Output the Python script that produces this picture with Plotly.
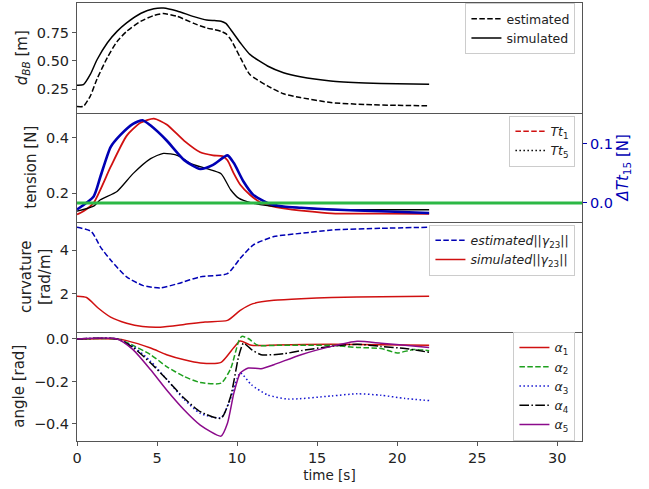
import plotly.graph_objects as go
from plotly.subplots import make_subplots

# ---------------- data ----------------
t_d = [0, 0.4, 0.83, 1.25, 1.9, 2.5, 3.1, 4.0, 4.8, 5.4, 6.25, 7.3, 8.1, 8.6, 9.0, 9.3, 9.6, 10.2, 10.8, 11.9, 12.9, 13.95, 15.85, 18, 20, 22]
d_sim = [0.285, 0.29, 0.38, 0.51, 0.66, 0.76, 0.835, 0.92, 0.96, 0.966, 0.94, 0.89, 0.86, 0.855, 0.85, 0.83, 0.776, 0.66, 0.557, 0.455, 0.396, 0.36, 0.323, 0.306, 0.298, 0.294]
d_est = [0.098, 0.10, 0.19, 0.34, 0.53, 0.67, 0.76, 0.85, 0.90, 0.917, 0.893, 0.83, 0.79, 0.775, 0.76, 0.74, 0.69, 0.53, 0.38, 0.28, 0.21, 0.177, 0.133, 0.115, 0.108, 0.104]

t_T1 = [0, 0.4, 1.04, 2.1, 3.1, 3.96, 4.8, 5.6, 6.7, 7.7, 8.5, 9.1, 9.4, 9.8, 10.2, 10.8, 11.5, 12.9, 15.9, 19, 22]
T1 = [0.123, 0.135, 0.165, 0.294, 0.406, 0.453, 0.468, 0.447, 0.388, 0.347, 0.336, 0.333, 0.318, 0.27, 0.23, 0.194, 0.165, 0.145, 0.127, 0.126, 0.125]

t_T5 = [0, 1.04, 1.46, 2.5, 3.5, 4.6, 5.4, 6.3, 7.1, 8.1, 9.0, 9.6, 10.1, 10.9, 11.9, 15.9, 19, 22]
T5 = [0.135, 0.153, 0.176, 0.206, 0.27, 0.324, 0.343, 0.335, 0.306, 0.288, 0.27, 0.212, 0.182, 0.165, 0.155, 0.141, 0.14, 0.14]

t_dT = [0, 1.04, 1.46, 2.1, 2.7, 3.5, 4.1, 4.6, 5.6, 6.7, 7.7, 8.5, 9.4, 9.8, 10.4, 11.0, 11.9, 12.9, 14.0, 15.9, 19, 22]
dT15 = [-0.011, 0.011, 0.044, 0.094, 0.114, 0.133, 0.139, 0.130, 0.105, 0.072, 0.057, 0.064, 0.08, 0.067, 0.036, 0.014, 0.0, -0.006, -0.008, -0.011, -0.014, -0.017]

t_ke = [0, 0.9, 1.46, 2.1, 3.1, 4.1, 5.2, 6.3, 7.7, 9.4, 10.2, 11.0, 12.3, 14.0, 15.9, 19, 22]
k_est = [5.05, 4.85, 4.15, 3.54, 2.77, 2.38, 2.26, 2.46, 2.77, 2.92, 3.62, 4.23, 4.62, 4.77, 4.92, 5.0, 5.05]
t_ks = [0, 0.6, 1.3, 2.1, 3.1, 4.1, 5.2, 6.7, 8.0, 9.4, 10.2, 11.0, 12.3, 14.0, 15.9, 19, 22]
k_sim = [1.88, 1.82, 1.35, 0.92, 0.64, 0.49, 0.46, 0.58, 0.70, 0.77, 1.23, 1.54, 1.69, 1.77, 1.82, 1.86, 1.88]

t_a1 = [0, 2.5, 3.1, 4.6, 5.6, 6.7, 7.7, 9.0, 9.8, 10.2, 10.9, 12.5, 15.9, 19, 22]
a1 = [0, 0, -0.008, -0.043, -0.074, -0.098, -0.113, -0.11, -0.04, -0.01, -0.03, -0.028, -0.025, -0.027, -0.03]
t_a2 = [0, 2.5, 3.1, 4.6, 5.6, 6.7, 7.7, 9.0, 9.6, 10.1, 10.3, 10.7, 11.3, 12.5, 15.9, 17.5, 19, 20, 21, 22]
a2 = [0, 0, -0.016, -0.074, -0.13, -0.177, -0.205, -0.208, -0.14, -0.011, 0.012, 0.002, -0.03, -0.03, -0.03, -0.04, -0.045, -0.066, -0.05, -0.055]
t_a3 = [0, 2.5, 3.5, 4.6, 5.6, 6.7, 7.7, 9.0, 9.5, 10.2, 10.9, 11.9, 13.2, 15.9, 17.5, 19, 20.5, 22]
a3 = [0, 0, -0.035, -0.105, -0.19, -0.285, -0.35, -0.37, -0.3, -0.16, -0.216, -0.263, -0.283, -0.268, -0.258, -0.265, -0.28, -0.29]
t_a4 = [0, 2.5, 3.5, 4.6, 5.6, 6.7, 7.7, 9.0, 9.6, 10.1, 10.4, 10.9, 11.5, 12.9, 14.0, 15.9, 17.5, 19, 20.5, 22]
a4 = [0, 0, -0.04, -0.113, -0.19, -0.279, -0.342, -0.373, -0.27, -0.082, -0.02, -0.05, -0.074, -0.07, -0.055, -0.035, -0.025, -0.035, -0.045, -0.063]
t_a5 = [0, 2.5, 3.5, 4.6, 5.6, 6.7, 7.7, 9.0, 9.4, 9.8, 10.2, 10.7, 11.5, 12.3, 14.0, 15.9, 17.5, 19, 20.5, 22]
a5 = [0, 0, -0.05, -0.145, -0.24, -0.334, -0.405, -0.457, -0.397, -0.255, -0.16, -0.137, -0.14, -0.121, -0.074, -0.035, -0.011, -0.02, -0.03, -0.04]

x_range = [0, 31.55]

# ---------------- styles ----------------
FONT = "DejaVu Sans"
RED = "#d01010"
BLUE = "#0000b4"
TXT = "#222222"
FRAME = "#555555"
DASH = "5.5px,2.4px"
DOT = "1.5px,2.5px"
DASHDOT = "9.6px,2.4px,1.5px,2.4px"
TICK_SIZE = 14.5
YLAB_SIZE = 15
XLAB_SIZE = 13.5
LEG_SIZE = 12.5

fig = make_subplots(rows=4, cols=1, shared_xaxes=True, vertical_spacing=0,
                    specs=[[{}], [{"secondary_y": True}], [{}], [{}]])

def L(name, x, y, color, dash="solid", width=1.5, legend="legend", show=True):
    return go.Scatter(x=x, y=y, name=name, mode="lines",
                      line=dict(color=color, dash=dash, width=width, shape="spline", smoothing=0.6),
                      legend=legend, showlegend=show)

# panel 1
fig.add_trace(L("estimated", t_d, d_est, "black", DASH), row=1, col=1)
fig.add_trace(L("simulated", t_d, d_sim, "black"), row=1, col=1)

# panel 2
fig.add_trace(L("Tt1", t_T1, T1, RED, "solid", 1.8, "legend2", False), row=2, col=1, secondary_y=False)
fig.add_trace(L("Tt5", t_T5, T5, "black", "solid", 1.3, "legend2", False), row=2, col=1, secondary_y=False)
fig.add_trace(go.Scatter(x=[None], y=[None], mode="lines", name="<i>Tt</i><sub>1</sub>",
                         line=dict(color=RED, dash=DASH, width=1.5), legend="legend2"), row=2, col=1)
fig.add_trace(go.Scatter(x=[None], y=[None], mode="lines", name="<i>Tt</i><sub>5</sub>",
                         line=dict(color="black", dash=DOT, width=1.5), legend="legend2"), row=2, col=1)
fig.add_trace(L("dT15", t_dT, dT15, BLUE, "solid", 2.6, "legend2", False), row=2, col=1, secondary_y=True)
fig.add_hline(y=0, line=dict(color="#2cb845", width=3), row=2, col=1, secondary_y=True)

# panel 3
fig.add_trace(L("<i>estimated</i>||<i>γ</i><sub>23</sub>||", t_ke, k_est, BLUE, DASH, 1.5, "legend3"), row=3, col=1)
fig.add_trace(L("<i>simulated</i>||<i>γ</i><sub>23</sub>||", t_ks, k_sim, RED, "solid", 1.5, "legend3"), row=3, col=1)

# panel 4
fig.add_trace(L("<i>α</i><sub>1</sub>", t_a1, a1, RED, "solid", 1.5, "legend4"), row=4, col=1)
fig.add_trace(L("<i>α</i><sub>2</sub>", t_a2, a2, "#1ea01e", DASH, 1.5, "legend4"), row=4, col=1)
fig.add_trace(L("<i>α</i><sub>3</sub>", t_a3, a3, "#1515d0", DOT, 1.5, "legend4"), row=4, col=1)
fig.add_trace(L("<i>α</i><sub>4</sub>", t_a4, a4, "black", DASHDOT, 1.5, "legend4"), row=4, col=1)
fig.add_trace(L("<i>α</i><sub>5</sub>", t_a5, a5, "#8b0a8b", "solid", 1.5, "legend4"), row=4, col=1)

axis_common = dict(showline=True, mirror=True, linecolor=FRAME, linewidth=1,
                   ticks="outside", ticklen=4, tickcolor=FRAME, showgrid=False,
                   zeroline=False, automargin=False,
                   tickfont=dict(size=TICK_SIZE, color=TXT, family=FONT))

for r in range(1, 5):
    fig.update_xaxes(range=x_range, domain=[0, 1], row=r, col=1, **axis_common)
for r in range(1, 4):
    fig.update_xaxes(showticklabels=False, ticks="", row=r, col=1)
# avoid doubled divider lines between stacked panels
for r in range(2, 5):
    fig.update_xaxes(mirror=False, row=r, col=1)
fig.update_xaxes(tickvals=[0, 5, 10, 15, 20, 25, 30],
                 title=dict(text="time [s]", font=dict(size=XLAB_SIZE, color=TXT), standoff=5),
                 row=4, col=1)

def ytitle(text, color=TXT):
    return dict(text=text, font=dict(size=YLAB_SIZE, color=color, family=FONT), standoff=5)

fig.update_yaxes(range=[0.045, 1.01], tickvals=[0.25, 0.5, 0.75], tickformat=".2f",
                 title=ytitle("<i>d</i><sub><i>BB</i></sub> [m]"), row=1, col=1, **axis_common)
fig.update_yaxes(range=[0.096, 0.49], tickvals=[0.2, 0.4], tickformat=".1f",
                 title=ytitle("tension [N]"), row=2, col=1, secondary_y=False, **axis_common)
ax2r = dict(axis_common)
ax2r.update(tickfont=dict(size=TICK_SIZE, color=BLUE, family=FONT), tickcolor=BLUE, mirror=False)
fig.update_yaxes(range=[-0.032, 0.152], tickvals=[0, 0.1], tickformat=".1f",
                 title=ytitle("<i>ΔTt</i><sub>15</sub> [N]", BLUE), row=2, col=1, secondary_y=True, **ax2r)
fig.update_yaxes(range=[0.26, 5.29], tickvals=[2, 4],
                 title=ytitle("curvature<br>[rad/m]"), row=3, col=1, **axis_common)
fig.update_yaxes(range=[-0.48, 0.035], tickvals=[0, -0.2, -0.4], tickformat=".1f",
                 title=ytitle("angle [rad]"), row=4, col=1, **axis_common)

leg_common = dict(xanchor="right", yanchor="top", bordercolor="#cccccc", borderwidth=1,
                  bgcolor="rgba(255,255,255,0.85)", font=dict(size=LEG_SIZE, family=FONT, color=TXT),
                  tracegroupgap=0, itemwidth=30)

fig.update_layout(
    width=649, height=489,
    margin=dict(l=77, r=67, t=3, b=48, autoexpand=False),
    plot_bgcolor="white", paper_bgcolor="white",
    font=dict(family=FONT, size=14, color=TXT),
    legend=dict(x=0.987, y=1.0, **leg_common),
    legend2=dict(x=0.987, y=0.743, **leg_common),
    legend3=dict(x=0.987, y=0.494, **leg_common),
    legend4=dict(x=0.987, y=0.249, **leg_common),
)

fig.write_html("out.html", config={"displayModeBar": False},
               post_script="document.body.style.margin='0px';")
